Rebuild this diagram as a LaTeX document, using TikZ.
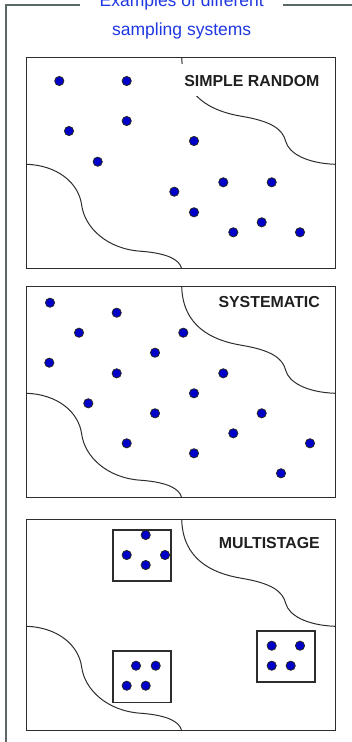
\documentclass[tikz,border=0pt]{standalone}
\usepackage{fontspec}
\setmainfont{Liberation Sans}
\definecolor{framegray}{RGB}{92,104,104}
\definecolor{headblue}{RGB}{30,55,225}
\definecolor{dotblue}{RGB}{0,0,200}
\definecolor{linegray}{RGB}{45,45,45}
\begin{document}
\begin{tikzpicture}[x=1pt,y=-1pt,
  frameline/.style={draw=framegray, line width=2pt},
  panelbox/.style={draw=linegray, line width=1pt},
  boundary/.style={draw=linegray, line width=1pt},
  subbox/.style={draw=linegray, line width=1.6pt},
  dot/.style={circle, fill=dotblue, draw=black!85, line width=0.8pt, minimum size=9.2pt, inner sep=0pt},
  headtext/.style={text=headblue, font=\fontsize{17.5}{20}\selectfont, anchor=base, inner sep=0pt},
  paneltitle/.style={font=\fontsize{15.9}{18}\selectfont\bfseries, text=black!88, anchor=base east, inner sep=0pt, outer sep=0pt}]
\useasboundingbox (0,0) rectangle (352,742);
% outer frame
\coordinate (fTL) at (6,5);
\coordinate (fGapL) at (80,5);
\coordinate (fGapR) at (283,5);
\coordinate (fTR) at (352,5);
\coordinate (fBL) at (6,742);
\draw[frameline] (fGapL) -- (fTL) -- (fBL);
\draw[frameline] (fGapR) -- (fTR);
% heading
\node[headtext] (head1) at (181.7,6.8) {Examples of different};
\node[headtext] (head2) at (181.7,35) {sampling systems};
% panels
\foreach \top/\nm in {57.3/p1, 286.3/p2, 519.3/p3}{
  \begin{scope}[shift={(26.7,\top)}]
    \draw[panelbox] (0,0) rectangle (308.6,211.5);
    \draw[boundary] (155,0) .. controls (156,40) and (185,54) .. (215,59)
      .. controls (245,64) and (256,72) .. (259,84)
      .. controls (262,96) and (280,106) .. (308.6,107);
    \draw[boundary] (0,107) .. controls (30,108) and (52,125) .. (55,148)
      .. controls (58,170) and (80,192) .. (115,194)
      .. controls (140,196) and (153,202) .. (155,211.5);
  \end{scope}
}
% panel titles
\node[paneltitle, fill=white, inner xsep=3pt, text height=22.7pt, text depth=9.3pt] (t1) at (322.5,86.7) {SIMPLE RANDOM};
\node[paneltitle] (t2) at (319.8,307.5) {SYSTEMATIC};
\node[paneltitle] (t3) at (319.8,548.5) {MULTISTAGE};
% simple random dots
\foreach \p [count=\i] in {(59.3,81),(126.7,81),(69,131),(126.7,121),(97.7,161.7),(194,141),(223.3,182.3),(271.7,182.3),(174.3,191.7),(194,212.3),(261.7,222.3),(233.3,232.3),(300,232.3)}
  \node[dot] (r\i) at \p {};
% systematic dots
\foreach \p [count=\i] in {(50,302.7),(116.7,312.7),(79,332.7),(183.3,332.7),(155,352.7),(49.3,362.7),(116.7,373.3),(223.3,373.3),(194,393.3),(88.3,403.3),(155,413.3),(261.7,413.3),(233.3,433.3),(126.7,443.3),(194,453.3),(310,443.3),(281,473.3)}
  \node[dot] (s\i) at \p {};
% multistage sub-boxes
\draw[subbox] (112.7,530) rectangle (170.7,580.7);
\draw[subbox] (112.7,651) rectangle (170.7,702.3);
\draw[subbox] (256.7,631) rectangle (315,681.7);
\foreach \p [count=\i] in {(145.7,535),(126.7,555),(165,555),(145.7,565),(136,665.7),(155.7,665.7),(126.7,685.7),(145.7,685.7),(271.7,645.7),(300,645.7),(271.7,665.7),(290.7,665.7)}
  \node[dot] (m\i) at \p {};
\end{tikzpicture}
\end{document}
